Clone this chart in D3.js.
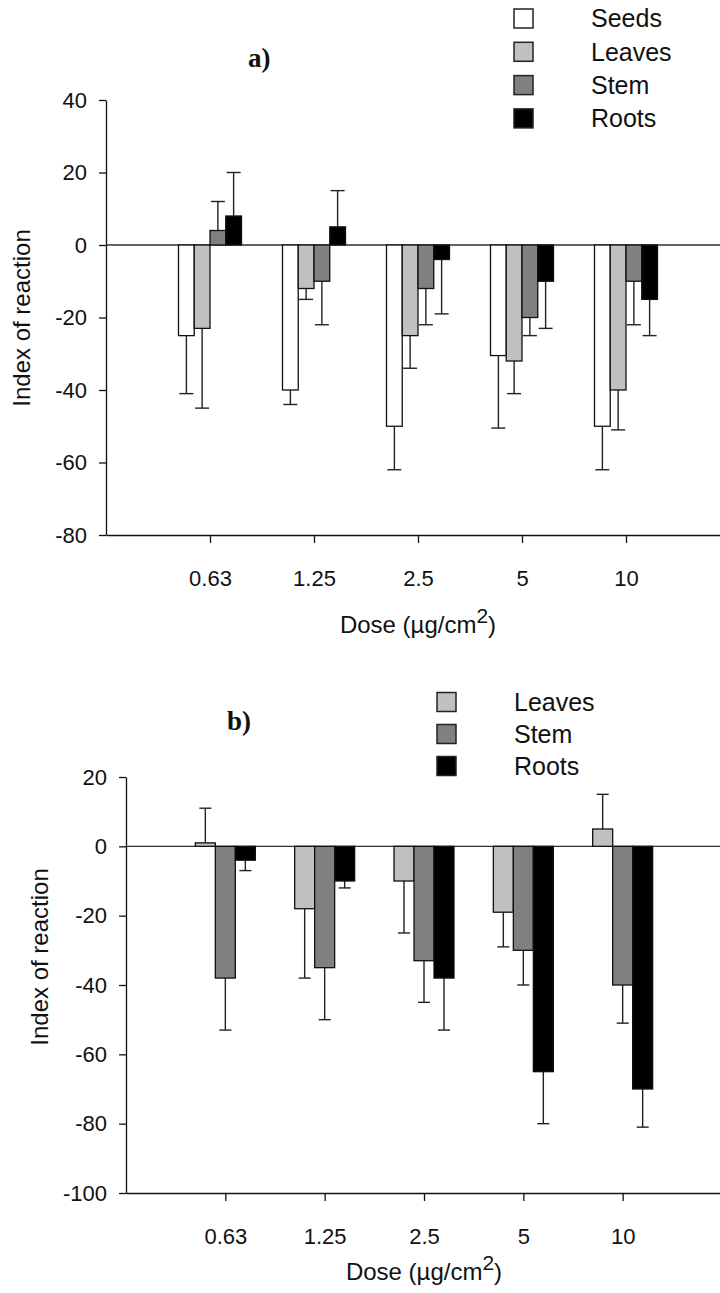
<!DOCTYPE html>
<html>
<head>
<meta charset="utf-8">
<script src="https://cdn.jsdelivr.net/npm/d3@7"></script>
<style>
  body { margin: 0; background: #fff; }
  svg text { font-family: "Liberation Sans", Arial, sans-serif; fill: #111; }
</style>
</head>
<body>
<svg id="chart" width="720" height="1293"></svg>
<script>
// dose categories (x axis)
const doses = ["0.63", "1.25", "2.5", "5", "10"];

// panel a) - mean index of reaction and error (one-sided, in the bar's direction)
const seriesA = ["Seeds", "Leaves", "Stem", "Roots"];
const seedsA = [-25, -40, -50, -30.5, -50];
const seedsErrA = [16, 4, 12, 20, 12];
const leavesA = [-23, -12, -25, -32, -40];
const leavesErrA = [22, 3, 9, 9, 11];
const stemA = [4, -10, -12, -20, -10];
const stemErrA = [8, 12, 10, 5, 12];
const rootsA = [8, 5, -4, -10, -15];
const rootsErrA = [12, 10, 15, 13, 10];
const yTicksA = [40, 20, 0, -20, -40, -60, -80];

// panel b)
const seriesB = ["Leaves", "Stem", "Roots"];
const leavesB = [1, -18, -10, -19, 5];
const leavesErrB = [10, 20, 15, 10, 10];
const stemB = [-38, -35, -33, -30, -40];
const stemErrB = [15, 15, 12, 10, 11];
const rootsB = [-4, -10, -38, -65, -70];
const rootsErrB = [3, 2, 15, 15, 11];
const yTicksB = [20, 0, -20, -40, -60, -80, -100];

const fills = { Seeds: "#ffffff", Leaves: "#c0c0c0", Stem: "#808080", Roots: "#000000" };

const svg = d3.select("#chart");

function drawPanel(cfg) {
    const g = svg.append("g");

    // x: category index 1..5 on a 0..6 linear scale
    const x = d3.scaleLinear().domain([0, doses.length + 1]).range([cfg.left, cfg.right]);
    const y = d3.scaleLinear().domain(d3.extent(cfg.yTicks)).range([cfg.bottom, cfg.top]);

    // bars inside each dose group
    const inner = d3.scaleBand()
        .domain(cfg.series.map(s => s.name))
        .range([-cfg.groupW / 2, cfg.groupW / 2]);

    // zero line
    g.append("line")
        .attr("x1", x(0)).attr("x2", 720)
        .attr("y1", y(0)).attr("y2", y(0))
        .style("stroke", "#333")
        .style("stroke-width", 1.3);

    const rows = [];
    cfg.series.forEach(s => {
        s.values.forEach((v, i) => {
            rows.push({ name: s.name, i: i, value: v, err: s.err[i] });
        });
    });

    // error bars (behind bars)
    const eb = g.append("g");
    rows.forEach(d => {
        const cx = x(d.i + 1) + inner(d.name) + inner.bandwidth() / 2;
        const end = d.value >= 0 ? d.value + d.err : d.value - d.err;
        eb.append("line")
            .attr("x1", cx).attr("x2", cx)
            .attr("y1", y(d.value)).attr("y2", y(end))
            .style("stroke", "#222").style("stroke-width", 1.4);
        eb.append("line")
            .attr("x1", cx - cfg.capW / 2).attr("x2", cx + cfg.capW / 2)
            .attr("y1", y(end)).attr("y2", y(end))
            .style("stroke", "#222").style("stroke-width", 1.4);
    });

    g.append("g").selectAll("rect")
        .data(rows)
        .join("rect")
        .attr("x", d => x(d.i + 1) + inner(d.name))
        .attr("width", inner.bandwidth())
        .attr("y", d => y(Math.max(0, d.value)))
        .attr("height", d => Math.abs(y(d.value) - y(0)))
        .style("fill", d => fills[d.name])
        .style("stroke", "#111")
        .style("stroke-width", 1.3);

    // y axis (plain hyphen for negatives, like the original)
    const yAxis = g.append("g")
        .attr("transform", `translate(${cfg.left},0)`)
        .call(d3.axisLeft(y).tickValues(cfg.yTicks).tickFormat(d => String(d))
            .tickSize(7).tickSizeOuter(0).tickPadding(12));
    yAxis.selectAll("text").style("font-size", "22px");

    // x axis
    const xAxis = g.append("g")
        .attr("transform", `translate(0,${cfg.bottom})`)
        .call(d3.axisBottom(x).tickValues(d3.range(1, doses.length + 1))
            .tickFormat(i => doses[i - 1]).tickSize(8).tickSizeOuter(0).tickPadding(27));
    xAxis.selectAll("text").style("font-size", "22px");
    g.selectAll(".domain, .tick line").style("stroke", "#111").style("stroke-width", 1.3);

    // axis titles
    g.append("text")
        .attr("transform", `translate(${cfg.yLabelX},${cfg.yLabelY}) rotate(-90)`)
        .attr("text-anchor", "middle")
        .attr("dy", "0.35em")
        .style("font-size", "24px")
        .text("Index of reaction");

    const xl = g.append("text")
        .attr("x", cfg.xLabelX)
        .attr("y", cfg.xLabelY)
        .attr("text-anchor", "middle")
        .style("font-size", "24px");
    xl.append("tspan").text("Dose (µg/cm");
    xl.append("tspan").attr("dy", -10).style("font-size", "21px").text("2");
    xl.append("tspan").attr("dy", 10).text(")");

    // panel tag
    g.append("text")
        .attr("x", cfg.tagX).attr("y", cfg.tagY)
        .style("font-family", "'Liberation Serif', 'Times New Roman', serif")
        .style("font-weight", "bold")
        .style("font-size", "27px")
        .text(cfg.tag);

    // legend
    const lg = g.append("g");
    cfg.series.forEach((s, k) => {
        const ly = cfg.legendY + k * cfg.legendStep;
        lg.append("rect")
            .attr("x", cfg.legendX).attr("y", ly - 9.5)
            .attr("width", 19).attr("height", 19)
            .style("fill", fills[s.name])
            .style("stroke", "#222").style("stroke-width", 1.5);
        lg.append("text")
            .attr("x", cfg.legendX + 77).attr("y", ly)
            .attr("dy", "0.35em")
            .style("font-size", "25px")
            .text(s.name);
    });
}

drawPanel({
    tag: "a)", tagX: 248, tagY: 67,
    left: 106, right: 730, top: 100, bottom: 535,
    yTicks: yTicksA, groupW: 63, capW: 14,
    yLabelX: 22, yLabelY: 318,
    xLabelX: 418, xLabelY: 633,
    legendX: 514, legendY: 18.5, legendStep: 33.3,
    series: [
        { name: "Seeds", values: seedsA, err: seedsErrA },
        { name: "Leaves", values: leavesA, err: leavesErrA },
        { name: "Stem", values: stemA, err: stemErrA },
        { name: "Roots", values: rootsA, err: rootsErrA }
    ]
});

drawPanel({
    tag: "b)", tagX: 227, tagY: 730,
    left: 126, right: 722, top: 777, bottom: 1193,
    yTicks: yTicksB, groupW: 60, capW: 12,
    yLabelX: 40, yLabelY: 957,
    xLabelX: 424, xLabelY: 1280,
    legendX: 437, legendY: 702, legendStep: 32,
    series: [
        { name: "Leaves", values: leavesB, err: leavesErrB },
        { name: "Stem", values: stemB, err: stemErrB },
        { name: "Roots", values: rootsB, err: rootsErrB }
    ]
});
</script>
</body>
</html>
